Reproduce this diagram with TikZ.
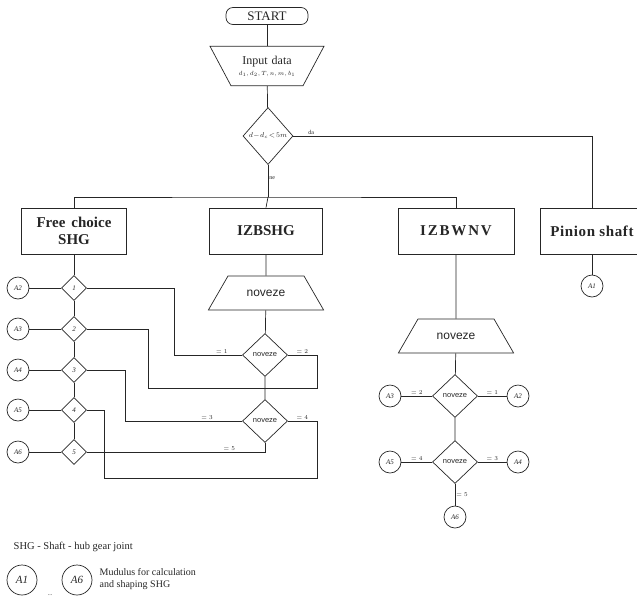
\documentclass[tikz,border=0pt]{standalone}
\usepackage{fontspec}
\setmainfont{Liberation Serif}
\setsansfont{Liberation Sans}
\usetikzlibrary{shapes.geometric}

\begin{document}
\begin{tikzpicture}[
  x=1pt, y=-1pt, color=black!85, line width=0.7pt,
  term/.style={draw, rounded corners=7, minimum width=82, minimum height=17,
               inner sep=1pt, font=\fontsize{13}{14}\selectfont},
  box/.style={draw, minimum height=46, inner sep=2pt, align=center,
              font=\fontsize{15}{17}\selectfont\bfseries},
  io/.style={draw, trapezium, trapezium left angle=60, trapezium right angle=60,
             text width=40, align=center, text height=8, text depth=2,
             inner xsep=18, inner ysep=12,
             font=\sffamily\fontsize{12}{14}\selectfont},
  dec/.style={draw, diamond, minimum width=45, minimum height=43, inner sep=0pt,
              font=\sffamily\fontsize{7.5}{8}\selectfont},
  sel/.style={draw, diamond, minimum width=25, minimum height=25, inner sep=0pt,
              font=\fontsize{7}{8}\selectfont\itshape},
  mod/.style={draw, circle, minimum size=22, inner sep=0pt,
              font=\fontsize{7}{8}\selectfont\itshape},
  lbl/.style={font=\fontsize{6}{7}\selectfont, inner sep=1pt}
]
\useasboundingbox (0,0) rectangle (637,614);
% Start and input
\node[term] (start) at (267,16) {START};
\node[draw, trapezium, shape border rotate=180, trapezium left angle=62,
      trapezium right angle=62, text width=60, align=center,
      inner xsep=6, inner ysep=9.5, font=\fontsize{12}{13}\selectfont] (input) at (267,66)
      {Input data\\[-2pt]{\fontsize{6}{7}\selectfont $d_1, d_2, T, n, m, b_1$}};
% Condition
\node[dec, minimum width=50, minimum height=57,
      font=\fontsize{7}{8}\selectfont] (cond) at (268,136) {$d\!-\!d_c\!<\!5m$};
\coordinate (split) at (268,197);
% Variant boxes
\node[box, minimum width=105] (free) at (74,231) {Free\hspace{6pt}choice\\SHG};
\node[box, minimum width=113] (izbshg) at (266,231) {IZBSHG};
\node[box, minimum width=116] (izbwnv) at (456,231) {\addfontfeature{LetterSpace=12}IZBWNV};
\node[box, minimum width=104] (pinion) at (592,231)
     {\addfontfeature{LetterSpace=4}Pinion shaft};
% Free choice selectors
\node[sel] (c1) at (74,288) {1};
\node[sel] (c2) at (74,329) {2};
\node[sel] (c3) at (74,370) {3};
\node[sel] (c4) at (74,410) {4};
\node[sel] (c5) at (74,452) {5};
\node[mod] (a2) at (18,288) {A2};
\node[mod] (a3) at (18,329) {A3};
\node[mod] (a4) at (18,370) {A4};
\node[mod] (a5) at (18,410) {A5};
\node[mod] (a6) at (18,452) {A6};
% IZBSHG branch
\node[io] (nvA) at (266,293) {noveze};
\node[dec] (nv1) at (265,355) {noveze};
\node[dec] (nv2) at (265,421) {noveze};
% IZBWNV branch
\node[io] (nvB) at (456,336) {noveze};
\node[dec] (nv3) at (455,396) {noveze};
\node[dec] (nv4) at (455,462) {noveze};
\node[mod] (r3) at (390,396) {A3};
\node[mod] (r2) at (518,396) {A2};
\node[mod] (r5) at (390,462) {A5};
\node[mod] (r4) at (518,462) {A4};
\node[mod] (r6) at (455,517) {A6};
% Pinion shaft
\node[mod] (p1) at (592,286) {A1};
% Legend
\node[anchor=west, font=\fontsize{10.5}{12}\selectfont] (key) at (10,547)
     {SHG - Shaft - hub gear joint};
\node[mod, minimum size=30, font=\fontsize{11}{12}\selectfont\itshape] (k1) at (22,580) {A1};
\node[mod, minimum size=30, font=\fontsize{11}{12}\selectfont\itshape] (k6) at (77,580) {A6};
\node[lbl] (dots) at (50,595) {...};
\node[anchor=west, align=left, font=\fontsize{10}{12}\selectfont] (keytext) at (96,579)
     {Mudulus for calculation\\and shaping SHG};

\draw (start) -- (input);
\draw (input) -- (cond);
\draw (cond.east) -- node[lbl, above, pos=0.06]{da} (cond.east -| pinion.north) -- (pinion.north);
\draw (cond.south) -- node[lbl, right, pos=0.4]{ne} (split);
\draw (free.north) |- (split) -| (izbwnv.north);
\draw (split) -- (izbshg.north);
\draw (pinion) -- (p1);

\draw (free) -- (c1) -- (c2) -- (c3) -- (c4) -- (c5);
\draw (a2) -- (c1);
\draw (a3) -- (c2);
\draw (a4) -- (c3);
\draw (a5) -- (c4);
\draw (a6) -- (c5);

\draw (izbshg) -- (nvA) -- (nv1) -- (nv2);
\draw (c1.east) -- ++(87.5,0) |- node[lbl, above, pos=0.85]{$=1$} (nv1.west);
\draw (nv1.east) -- node[lbl, above]{$=2$} ++(29,0) |- ++(-169,33) |- (c2.east);
\draw (c3.east) -- ++(38.5,0) |- node[lbl, above, pos=0.85]{$=3$} (nv2.west);
\draw (nv2.east) -- node[lbl, above]{$=4$} ++(29,0) |- ++(-212.5,57) |- (c4.east);
\draw (c5.east) -| node[lbl, above, pos=0.4]{$=5$} (nv2.south);

\draw (izbwnv) -- (nvB) -- (nv3) -- (nv4);
\draw (r3) -- node[lbl, above]{$=2$} (nv3);
\draw (nv3) -- node[lbl, above]{$=1$} (r2);
\draw (r5) -- node[lbl, above]{$=4$} (nv4);
\draw (nv4) -- node[lbl, above]{$=3$} (r4);
\draw (nv4) -- node[lbl, right]{$=5$} (r6);
\end{tikzpicture}
\end{document}
